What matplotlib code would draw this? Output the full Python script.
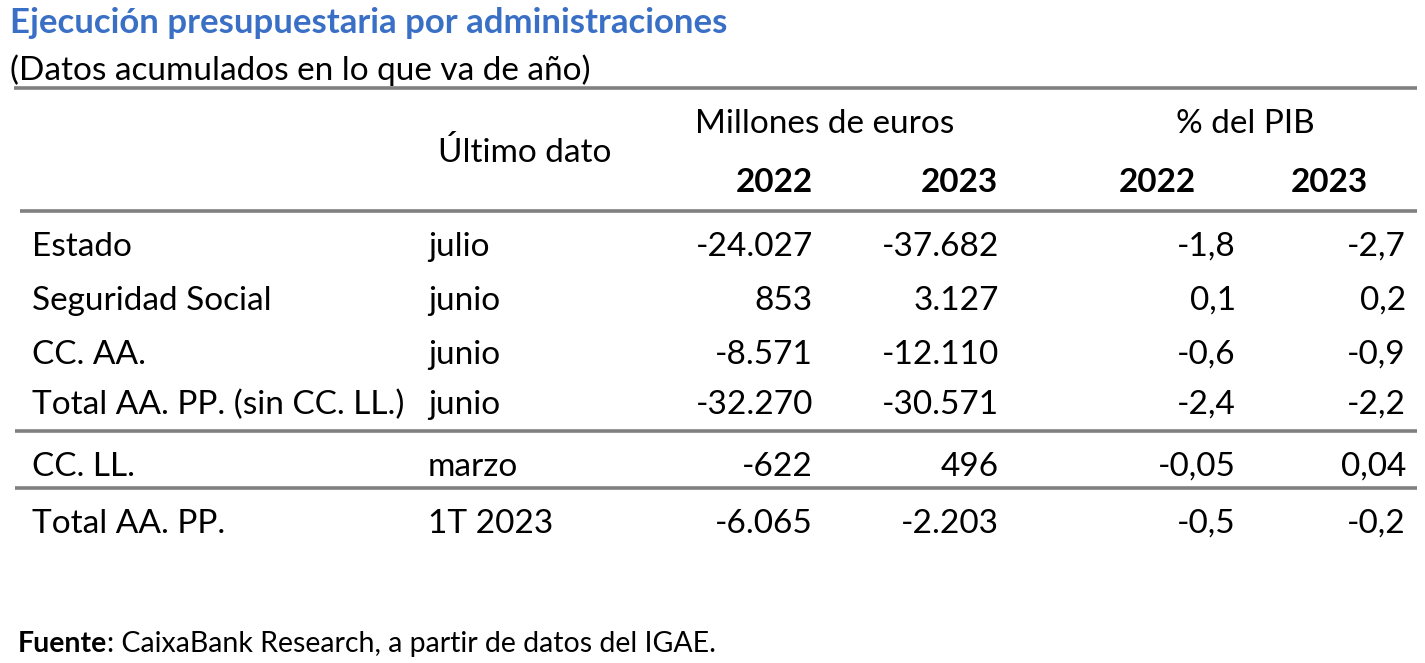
import matplotlib
matplotlib.use("Agg")
import matplotlib.pyplot as plt

plt.rcParams['font.family'] = ['Lato', 'DejaVu Sans']

# data
rows = ['Estado', 'Seguridad Social', 'CC. AA.', 'Total AA. PP. (sin CC. LL.)',
        'CC. LL.', 'Total AA. PP.']
ultimo_dato = ['julio', 'junio', 'junio', 'junio', 'marzo', '1T 2023']
meur_2022 = ['-24.027', '853', '-8.571', '-32.270', '-622', '-6.065']
meur_2023 = ['-37.682', '3.127', '-12.110', '-30.571', '496', '-2.203']
pib_2022 = ['-1,8', '0,1', '-0,6', '-2,4', '-0,05', '-0,5']
pib_2023 = ['-2,7', '0,2', '-0,9', '-2,2', '0,04', '-0,2']
years = ['2022', '2023', '2022', '2023']

W, H = 1425, 663
fig = plt.figure(figsize=(W / 100, H / 100), dpi=100)
ax = fig.add_axes([0, 0, 1, 1])
ax.set_xlim(0, W)
ax.set_ylim(H, 0)
ax.axis('off')

fs = 24
blue = '#3A6FC6'
gray = '#808080'
dy = 3  # small vertical nudge for Lato metrics

ax.text(10, 20 + dy, 'Ejecución presupuestaria por administraciones', fontsize=25,
        fontweight='bold', color=blue, va='center', ha='left')
ax.text(10, 67 + dy, '(Datos acumulados en lo que va de año)', fontsize=fs,
        va='center', ha='left')

# rules
for y, x0 in [(88, 14), (211, 20), (431, 15), (488, 15)]:
    ax.plot([x0, 1417], [y, y], color=gray, lw=2.6, solid_capstyle='butt')

# header
ax.text(438, 150 + dy, 'Último dato', fontsize=fs, va='center', ha='left')
ax.text(825, 121 + dy, 'Millones de euros', fontsize=fs, va='center', ha='center')
ax.text(1245, 121 + dy, '% del PIB', fontsize=fs, va='center', ha='center')
year_x = [813, 998, 1196, 1368]
for x, yr in zip(year_x, years):
    ax.text(x, 180 + dy, yr, fontsize=fs, fontweight='bold', va='center', ha='right')

row_y = [244, 298, 352, 402, 464, 521]
col_x = [813, 999, 1236, 1406]
for i, y in enumerate(row_y):
    ax.text(32, y + dy, rows[i], fontsize=fs, va='center', ha='left')
    ax.text(428, y + dy, ultimo_dato[i], fontsize=fs, va='center', ha='left')
    for x, col in zip(col_x, [meur_2022, meur_2023, pib_2022, pib_2023]):
        ax.text(x, y + dy, col[i], fontsize=fs, va='center', ha='right')

# footer: bold "Fuente" followed by normal text
t = ax.text(18, 641 + dy, 'Fuente', fontsize=20.5, fontweight='bold', va='center', ha='left')
fig.canvas.draw()
bb = t.get_window_extent(renderer=fig.canvas.get_renderer())
x_end = ax.transData.inverted().transform((bb.x1, bb.y0))[0]
ax.text(x_end, 641 + dy, ': CaixaBank Research, a partir de datos del IGAE.', fontsize=20.5,
        va='center', ha='left')

fig.savefig('out.png', dpi=100)
